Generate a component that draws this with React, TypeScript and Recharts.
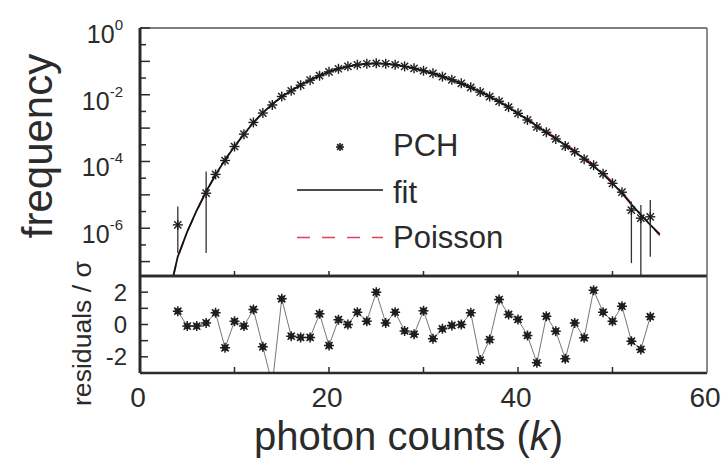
import React from "react";
import { ComposedChart, LineChart, Line, XAxis, YAxis, ErrorBar, Legend, Label } from "recharts";

// photon counting histogram, fit and Poisson reference (upper panel)
const fitK = [3.5, 4, 5, 6, 7, 8, 9, 10, 11, 12, 13, 14, 15, 16, 17, 18, 19, 20, 21, 22, 23, 24, 25, 26, 27, 28, 29, 30, 31, 32, 33, 34, 35, 36, 37, 38, 39, 40, 41, 42, 43, 44, 45, 46, 47, 48, 49, 50, 51, 52, 53, 54, 55];
const fitFreq = [3.5e-8, 1.41e-7, 7.9e-7, 3.4e-6, 1.26e-5, 4.0e-5, 1.12e-4, 2.8e-4, 6.6e-4, 1.45e-3, 2.9e-3, 5.2e-3, 8.7e-3, 1.32e-2, 1.95e-2, 2.75e-2, 3.7e-2, 4.9e-2, 6.0e-2, 7.1e-2, 7.9e-2, 8.5e-2, 8.7e-2, 8.5e-2, 7.9e-2, 7.1e-2, 6.2e-2, 5.2e-2, 4.4e-2, 3.5e-2, 2.8e-2, 2.2e-2, 1.66e-2, 1.23e-2, 8.9e-3, 6.2e-3, 4.2e-3, 2.75e-3, 1.78e-3, 1.15e-3, 7.4e-4, 4.8e-4, 3.1e-4, 1.95e-4, 1.2e-4, 7.2e-5, 4.2e-5, 2.2e-5, 1.12e-5, 5.2e-6, 2.5e-6, 1.26e-6, 6.6e-7];
const poissonFreq = [3.2e-8, 1.35e-7, 7.7e-7, 3.3e-6, 1.24e-5, 3.95e-5, 1.11e-4, 2.8e-4, 6.6e-4, 1.46e-3, 2.92e-3, 5.25e-3, 8.8e-3, 1.33e-2, 1.96e-2, 2.76e-2, 3.7e-2, 4.9e-2, 6.0e-2, 7.1e-2, 7.9e-2, 8.5e-2, 8.7e-2, 8.5e-2, 7.9e-2, 7.1e-2, 6.2e-2, 5.25e-2, 4.45e-2, 3.55e-2, 2.85e-2, 2.25e-2, 1.7e-2, 1.27e-2, 9.2e-3, 6.45e-3, 4.4e-3, 2.9e-3, 1.9e-3, 1.23e-3, 8.0e-4, 5.2e-4, 3.4e-4, 2.15e-4, 1.33e-4, 8.0e-5, 4.6e-5, 2.45e-5, 1.22e-5, 5.6e-6, 2.6e-6, 1.25e-6, 6.0e-7];

const pchK = [4, 7, 8, 9, 10, 11, 12, 13, 14, 15, 16, 17, 18, 19, 20, 21, 22, 23, 24, 25, 26, 27, 28, 29, 30, 31, 32, 33, 34, 35, 36, 37, 38, 39, 40, 41, 42, 43, 44, 45, 46, 47, 48, 49, 50, 51, 52, 53, 54];
const pchFreq = [1.26e-6, 1.12e-5, 4.1e-5, 1.07e-4, 2.81e-4, 6.6e-4, 1.48e-3, 2.83e-3, 4.95e-3, 8.85e-3, 1.31e-2, 1.93e-2, 2.73e-2, 3.72e-2, 4.86e-2, 6.0e-2, 7.1e-2, 7.93e-2, 8.5e-2, 8.78e-2, 8.5e-2, 7.93e-2, 7.08e-2, 6.18e-2, 5.23e-2, 4.37e-2, 3.49e-2, 2.8e-2, 2.2e-2, 1.67e-2, 1.2e-2, 8.8e-3, 6.35e-3, 4.25e-3, 2.77e-3, 1.75e-3, 1.08e-3, 7.5e-4, 4.75e-4, 2.9e-4, 1.96e-4, 1.17e-4, 7.7e-5, 4.3e-5, 2.22e-5, 1.2e-5, 3.5e-6, 2.0e-6, 2.2e-6];

// visible error bars (lower / upper ends)
const barK = [4, 7, 52, 53, 54];
const barLow = [1.8e-7, 1.8e-7, 9.0e-8, 3.7e-8, 1.4e-7];
const barHigh = [4.5e-6, 5.0e-5, 6.3e-6, 5.0e-6, 7.0e-6];

// normalised residuals (lower panel)
const resK = [4, 5, 6, 7, 8, 9, 10, 11, 12, 13, 14, 15, 16, 17, 18, 19, 20, 21, 22, 23, 24, 25, 26, 27, 28, 29, 30, 31, 32, 33, 34, 35, 36, 37, 38, 39, 40, 41, 42, 43, 44, 45, 46, 47, 48, 49, 50, 51, 52, 53, 54];
const resVal = [0.82, -0.1, -0.1, 0.1, 0.72, -1.44, 0.2, -0.1, 0.93, -1.38, -3.7, 1.59, -0.72, -0.8, -0.8, 0.66, -1.3, 0.3, 0.0, 0.76, 0.2, 2.0, 0.1, 0.76, -0.4, -0.6, 0.85, -0.88, -0.27, -0.06, 0.0, 0.72, -2.2, -0.93, 1.54, 0.62, 0.31, -0.68, -2.37, 0.51, -0.41, -2.12, 0.1, -0.82, 2.12, 0.76, 0.2, 1.13, -1.03, -1.54, 0.48];

const xInnerTicks = [10, 20, 30, 40, 50];
const xBottomTicks = [0, 10, 20, 30, 40, 50, 60];
const xLabelled = [0, 20, 40, 60];
const freqTicks = [1, 3.16e-1, 1e-1, 3.16e-2, 1e-2, 3.16e-3, 1e-3, 3.16e-4, 1e-4, 3.16e-5, 1e-5, 3.16e-6, 1e-6, 3.16e-7, 1e-7];
const resTicks = [-2, -1, 0, 1, 2];
const resLabelled = [-2, 0, 2];

const FREQ_MIN = 3.7e-8;
const INK = "#2b2b2b";
const FONT = "'Liberation Sans', Arial, Helvetica, sans-serif";
const RED = "#e0405c";

const fitRows = fitK.map((k, i) => ({ k, fit: fitFreq[i], poisson: poissonFreq[i] }));
const pchRows = pchK.map((k, i) => {
  const j = barK.indexOf(k);
  const f = pchFreq[i];
  return { k, f, err: j >= 0 ? [f - barLow[j], barHigh[j] - f] : undefined };
});
const resRows = resK.map((k, i) => ({ k, r: resVal[i] }));

function Star({ cx, cy, r = 5, w = 1.4 }: any) {
  const d = r * 0.72;
  return (
    <g stroke="#1e1e1e" strokeWidth={w}>
      <line x1={cx - r} y1={cy} x2={cx + r} y2={cy} />
      <line x1={cx} y1={cy - r} x2={cx} y2={cy + r} />
      <line x1={cx - d} y1={cy - d} x2={cx + d} y2={cy + d} />
      <line x1={cx - d} y1={cy + d} x2={cx + d} y2={cy - d} />
    </g>
  );
}

const pchDot = (p: any) => <Star key={`p${p.index}`} cx={p.cx} cy={p.cy} />;

const resDot = (p: any) => {
  if (p.payload.r < -3) return <g key={`r${p.index}`} />;
  return (
    <g key={`r${p.index}`}>
      <rect x={p.cx - 3} y={p.cy - 3} width={6} height={6} fill="#333" />
      <Star cx={p.cx} cy={p.cy} r={5} w={1.5} />
    </g>
  );
};

function XMark(props: any) {
  const { x, y, dir } = props;
  return <line x1={x} y1={y} x2={x} y2={y + dir * 5} stroke={INK} strokeWidth={1.5} />;
}

function LogTick(props: any) {
  const { x, y, payload } = props;
  const e = Math.log10(payload.value);
  const n = Math.round(e);
  const whole = Math.abs(e - n) < 0.05;
  return (
    <g>
      <line x1={x} y1={y} x2={x + (whole ? 10 : 6)} y2={y} stroke={INK} strokeWidth={1.5} />
      {whole && n % 2 === 0 && (
        <text x={x - 17} y={y + 15} textAnchor="end" fill={INK} fontFamily={FONT}>
          <tspan fontSize={25}>10</tspan>
          <tspan fontSize={15} dy={-13}>{n}</tspan>
        </text>
      )}
    </g>
  );
}

function ResTick(props: any) {
  const { x, y, payload } = props;
  return (
    <g>
      <line x1={x} y1={y} x2={x + 8} y2={y} stroke={INK} strokeWidth={1.5} />
      {resLabelled.includes(payload.value) && (
        <text x={x - 13} y={y + 8.5} textAnchor="end" fill={INK} fontFamily={FONT} fontSize={24}>
          {payload.value}
        </text>
      )}
    </g>
  );
}

function BottomTick(props: any) {
  const { x, y, payload } = props;
  const v = payload.value;
  return (
    <g>
      {v > 0 && v < 60 && <line x1={x} y1={y} x2={x} y2={y - 6} stroke={INK} strokeWidth={1.5} />}
      {xLabelled.includes(v) && (
        <text x={x - 2} y={y + 34} textAnchor="middle" fill={INK} fontFamily={FONT} fontSize={28}>
          {v}
        </text>
      )}
    </g>
  );
}

function LegendBox({ payload }: any) {
  const order = ["PCH", "fit", "Poisson"];
  const items = order.map((n) => (payload || []).find((p: any) => p.value === n) || { value: n });
  return (
    <svg width={240} height={130} style={{ display: "block" }}>
      <Star cx={50} cy={22} r={4} w={1.6} />
      <text x={103} y={31} fontSize={31} fill={INK} fontFamily={FONT}>{items[0].value}</text>
      <line x1={7} x2={93} y1={65} y2={65} stroke="#111" strokeWidth={1.6} />
      <text x={103} y={78} fontSize={31} fill={INK} fontFamily={FONT}>{items[1].value}</text>
      <line x1={7} x2={93} y1={112.5} y2={112.5} stroke={RED} strokeWidth={1.6} strokeDasharray="13 12" />
      <text x={103} y={123} fontSize={31} fill={INK} fontFamily={FONT}>{items[2].value}</text>
    </svg>
  );
}

// axes are 1px wide/high (Recharts skips 0-sized axes), margins are 1px smaller to keep the plot box
export default function App() {
  return (
    <div style={{ position: "absolute", left: 0, top: 0, width: 727, height: 461, background: "#fff", overflow: "hidden" }}>
      <div style={{ position: "absolute", left: 0, top: 0 }}>
        <ComposedChart width={727} height={280} margin={{ top: 27, right: 19, bottom: 3, left: 139 }}>
          <XAxis dataKey="k" type="number" domain={[0, 60]} ticks={xInnerTicks} interval={0} allowDataOverflow height={1}
            axisLine={{ stroke: INK, strokeWidth: 2.5 }} tickLine={false} tickSize={0} tickMargin={0}
            tick={(p: any) => <XMark {...p} dir={-1} />} />
          <XAxis xAxisId="top" orientation="top" type="number" domain={[0, 60]} ticks={xInnerTicks} interval={0} height={1}
            axisLine={{ stroke: "#555", strokeWidth: 1.5 }} tickLine={false} tickSize={0} tickMargin={0}
            tick={(p: any) => <XMark {...p} dir={1} />} />
          <YAxis type="number" scale="log" domain={[FREQ_MIN, 1]} allowDataOverflow ticks={freqTicks} interval={0} width={1}
            axisLine={{ stroke: INK, strokeWidth: 3 }} tickLine={false} tickSize={0} tickMargin={0}
            tick={(p: any) => <LogTick {...p} />}>
            <Label
              content={(lp: any) => {
                const vb = lp.viewBox || { x: 140, y: 28, height: 248 };
                const cy = vb.y + vb.height / 2 - 6;
                return (
                  <text x={52} y={cy} transform={`rotate(-90 52 ${cy})`} textAnchor="middle" fill={INK} fontFamily={FONT} fontSize={42}>
                    frequency
                  </text>
                );
              }}
            />
          </YAxis>
          <YAxis yAxisId="right" orientation="right" type="number" domain={[0, 1]} width={1} tick={false} tickLine={false}
            axisLine={{ stroke: "#666", strokeWidth: 1.5 }} />
          <Line data={fitRows} dataKey="poisson" name="Poisson" stroke={RED} strokeWidth={1.6} strokeDasharray="13 12"
            dot={false} activeDot={false} isAnimationActive={false} />
          <Line data={fitRows} dataKey="fit" name="fit" stroke="#111" strokeWidth={1.8}
            dot={false} activeDot={false} isAnimationActive={false} />
          <Line data={pchRows} dataKey="f" name="PCH" stroke="none" dot={pchDot} activeDot={false} isAnimationActive={false}>
            <ErrorBar dataKey="err" direction="y" width={0} stroke="#333" strokeWidth={1.3} />
          </Line>
          <Legend layout="vertical" align="center" verticalAlign="middle"
            wrapperStyle={{ left: 290, top: 125, width: 240, height: 130 }}
            content={(lp: any) => <LegendBox payload={lp.payload} />} />
        </ComposedChart>
      </div>
      <div style={{ position: "absolute", left: 0, top: 250 }}>
        <LineChart width={727} height={211} margin={{ top: 25, right: 19, bottom: 87, left: 139 }}>
          <XAxis dataKey="k" type="number" domain={[0, 60]} ticks={xBottomTicks} interval={0} height={1}
            axisLine={{ stroke: INK, strokeWidth: 2.5 }} tickLine={false} tickSize={0} tickMargin={0}
            tick={(p: any) => <BottomTick {...p} />}>
            <Label
              content={(lp: any) => {
                const vb = lp.viewBox || { x: 140, y: 123, width: 567 };
                const cx = vb.x + vb.width / 2 - 15;
                return (
                  <text x={cx} y={200} textAnchor="middle" fill={INK} fontFamily={FONT} fontSize={40}>
                    photon counts (<tspan fontStyle="italic">k</tspan>)
                  </text>
                );
              }}
            />
          </XAxis>
          <XAxis xAxisId="top" orientation="top" type="number" domain={[0, 60]} ticks={xInnerTicks} interval={0} height={1}
            axisLine={{ stroke: INK, strokeWidth: 2.5 }} tickLine={false} tickSize={0} tickMargin={0}
            tick={(p: any) => <XMark {...p} dir={1} />} />
          <YAxis type="number" domain={[-3, 3]} allowDataOverflow ticks={resTicks} interval={0} width={1}
            axisLine={{ stroke: INK, strokeWidth: 3 }} tickLine={false} tickSize={0} tickMargin={0}
            tick={(p: any) => <ResTick {...p} />}>
            <Label
              content={() => (
                <text x={91} y={83.5} transform="rotate(-90 91 83.5)" textAnchor="middle" fill={INK} fontFamily={FONT}
                  fontSize={25} textLength={145} lengthAdjust="spacingAndGlyphs">
                  residuals / σ
                </text>
              )}
            />
          </YAxis>
          <YAxis yAxisId="right" orientation="right" type="number" domain={[0, 1]} width={1} tick={false} tickLine={false}
            axisLine={{ stroke: "#666", strokeWidth: 1.5 }} />
          <Line data={resRows} dataKey="r" stroke="#777" strokeWidth={1} dot={resDot} activeDot={false} isAnimationActive={false} />
        </LineChart>
      </div>
    </div>
  );
}
